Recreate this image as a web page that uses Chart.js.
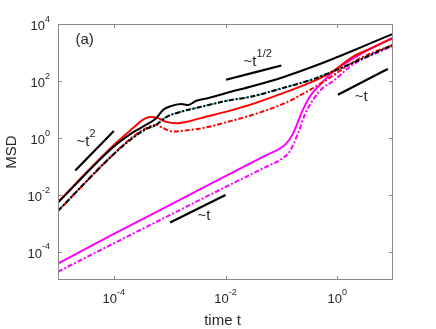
<!DOCTYPE html>
<html>
<head>
<meta charset="utf-8">
<script src="https://cdn.jsdelivr.net/npm/chart.js@4/dist/chart.umd.min.js"></script>
<style>
  html, body { margin: 0; padding: 0; background: #fff; }
  canvas { display: block; }
</style>
</head>
<body>
<canvas id="msd" width="436" height="329"></canvas>
<script>
// series (time t, MSD)
const tBlack = [1e-5, 1e-4, 2.2e-4, 3.8e-4, 5.75e-4, 7.6e-4, 1e-3, 1.62e-3, 2.14e-3, 3.0e-3, 4.6e-3, 1e-2, 3.1e-2, 0.107, 0.372, 0.83, 1.9, 4.4, 10];
const msdBlack = [5.25e-3, 0.49, 1.55, 2.88, 4.9, 9.55, 12.6, 15.5, 14.1, 20, 24, 37, 66, 135, 320, 590, 1150, 2300, 4470];

const tRed = [1e-5, 1e-4, 2.2e-4, 3.3e-4, 4.4e-4, 6.2e-4, 8.7e-4, 1.32e-3, 2e-3, 4.6e-3, 1e-2, 3.1e-2, 0.107, 0.372, 0.83, 1.9, 4.4, 10];
const msdRed = [5.6e-3, 0.56, 2.19, 4.27, 5.37, 4.9, 3.63, 3.24, 3.63, 5.62, 8.13, 15.5, 37.2, 95.5, 214, 700, 1500, 3200];

const tDash = [1e-5, 1e-4, 2.2e-4, 3.8e-4, 5.75e-4, 8.7e-4, 1.5e-3, 3.5e-3, 1e-2, 3.1e-2, 0.107, 0.372, 0.83, 1.9, 4.4, 10];
const msdDash = [2.69e-3, 0.27, 1.0, 2.04, 2.88, 5.37, 7.94, 12.0, 19.5, 28.8, 56.2, 115, 214, 430, 900, 1850];

const tRedDash = [1e-5, 1e-4, 2.2e-4, 3.8e-4, 5.75e-4, 7.6e-4, 1.15e-3, 2e-3, 4.6e-3, 1e-2, 3.1e-2, 0.107, 0.372, 0.83, 1.9, 4.4, 10];
const msdRedDash = [2.69e-3, 0.27, 1.1, 2.19, 2.88, 2.19, 1.66, 1.82, 2.34, 3.47, 6.46, 15.5, 56.2, 151, 450, 1000, 1780];

const tMag = [1e-5, 1e-4, 1e-3, 1e-2, 0.054, 0.107, 0.141, 0.174, 0.229, 0.324, 0.49, 0.83, 1.9, 4.4, 10];
const msdMag = [3.8e-5, 4.2e-4, 4.3e-3, 0.045, 0.245, 0.49, 0.89, 1.9, 7.4, 28.2, 72.4, 200, 600, 1500, 3300];

const tMagDash = [1e-5, 1e-4, 1e-3, 1e-2, 0.054, 0.1, 0.141, 0.2, 0.263, 0.372, 0.55, 0.83, 1.9, 4.4, 10];
const msdMagDash = [1.95e-5, 1.95e-4, 1.9e-3, 0.0186, 0.096, 0.178, 0.331, 1.48, 6.46, 21.9, 56.2, 95.5, 372, 850, 1700];

// guide segments for scaling laws
const tGuideT2 = [2.04e-5, 1e-4];
const msdGuideT2 = [0.071, 1.74];
const tGuideHalf = [1.02e-2, 0.1];
const msdGuideHalf = [110, 347];
const tGuideLow = [1.02e-3, 1e-2];
const msdGuideLow = [1.05e-3, 9.8e-3];
const tGuideRight = [1.03, 8.1];
const msdGuideRight = [32.4, 263];

// tick positions and exponents
const xTicks = [1e-4, 1e-2, 1];
const xTickExp = ['-4', '-2', '0'];
const yTicks = [1e-4, 1e-2, 1, 1e2, 1e4];
const yTickExp = ['-4', '-2', '0', '2', '4'];

// text labels in data coordinates
const notes = [
  {base: '(a)', sup: '', t: 2.06e-5, m: 2020},
  {base: '~t', sup: '2', t: 2.14e-5, m: 0.52},
  {base: '~t', sup: '1/2', t: 0.0211, m: 327},
  {base: '~t', sup: '', t: 3.16e-3, m: 1.29e-3},
  {base: '~t', sup: '', t: 2.06, m: 20}
];

const FONT = "'Liberation Sans', Arial, Helvetica, sans-serif";
const TEXT = '#262626';
const FRAME = '#8a8a8a';

function pts(ts, ms) {
  return ts.map((t, i) => ({x: t, y: ms[i]}));
}

function line(label, ts, ms, color, width, dash, order, dashOffset) {
  return {
    label: label,
    data: pts(ts, ms),
    borderColor: color,
    borderWidth: width,
    borderDash: dash,
    borderDashOffset: dashOffset || 0,
    pointRadius: 0,
    fill: false,
    cubicInterpolationMode: 'monotone',
    order: order
  };
}

function drawPow(ctx, base, sup, x, y, size, align) {
  const supSize = Math.round(size * 0.72);
  ctx.font = size + 'px ' + FONT;
  const wb = ctx.measureText(base).width;
  ctx.font = supSize + 'px ' + FONT;
  const ws = sup ? ctx.measureText(sup).width : 0;
  let x0 = x;
  if (align === 'center') x0 = x - (wb + ws) / 2;
  if (align === 'right') x0 = x - (wb + ws);
  ctx.textAlign = 'left';
  ctx.textBaseline = 'alphabetic';
  ctx.font = size + 'px ' + FONT;
  ctx.fillText(base, x0, y);
  if (sup) {
    ctx.font = supSize + 'px ' + FONT;
    ctx.fillText(sup, x0 + wb, y - size * 0.62);
  }
}

const axesPlugin = {
  id: 'matlabAxes',
  afterDraw(chart) {
    const {ctx, chartArea: a, scales: {x, y}} = chart;
    ctx.save();
    ctx.strokeStyle = FRAME;
    ctx.lineWidth = 1;
    ctx.strokeRect(a.left + 0.5, a.top + 0.5, a.right - a.left - 1, a.bottom - a.top - 1);

    ctx.beginPath();
    xTicks.forEach(v => {
      const px = Math.round(x.getPixelForValue(v)) + 0.5;
      ctx.moveTo(px, a.bottom); ctx.lineTo(px, a.bottom - 4);
      ctx.moveTo(px, a.top); ctx.lineTo(px, a.top + 4);
    });
    yTicks.forEach(v => {
      const py = Math.round(y.getPixelForValue(v)) + 0.5;
      ctx.moveTo(a.left, py); ctx.lineTo(a.left + 4, py);
      ctx.moveTo(a.right, py); ctx.lineTo(a.right - 4, py);
    });
    ctx.stroke();

    ctx.fillStyle = TEXT;
    xTicks.forEach((v, i) => {
      drawPow(ctx, '10', xTickExp[i], x.getPixelForValue(v), a.bottom + 23, 13, 'center');
    });
    yTicks.forEach((v, i) => {
      drawPow(ctx, '10', yTickExp[i], a.left - 8, y.getPixelForValue(v) + 6, 13, 'right');
    });

    ctx.font = '15px ' + FONT;
    ctx.textAlign = 'center';
    ctx.textBaseline = 'alphabetic';
    ctx.fillText('time t', (a.left + a.right) / 2 - 3, a.bottom + 45);
    ctx.save();
    ctx.translate(16, (a.top + a.bottom) / 2);
    ctx.rotate(-Math.PI / 2);
    ctx.fillText('MSD', 0, 0);
    ctx.restore();

    notes.forEach(n => {
      drawPow(ctx, n.base, n.sup, x.getPixelForValue(n.t), y.getPixelForValue(n.m), 15, 'left');
    });
    ctx.restore();
  }
};

new Chart(document.getElementById('msd'), {
  type: 'line',
  data: {
    datasets: [
      line('t^2', tGuideT2, msdGuideT2, '#000', 2.2, [], 0),
      line('t^1/2', tGuideHalf, msdGuideHalf, '#000', 2.2, [], 0),
      line('t low', tGuideLow, msdGuideLow, '#000', 2.2, [], 0),
      line('t right', tGuideRight, msdGuideRight, '#000', 2.2, [], 0),
      line('black solid', tBlack, msdBlack, '#000', 2, [], 1),
      line('black dash-dot', tDash, msdDash, '#000', 2, [5, 2, 2, 2], 2),
      line('red solid', tRed, msdRed, '#ff0000', 2, [], 3),
      line('red dash-dot', tRedDash, msdRedDash, '#ff0000', 2, [5, 2, 2, 2], 4, 3),
      line('teal dotted', tDash, msdDash, '#1a9a9a', 2, [1.5, 1.5], 5),
      line('magenta solid', tMag, msdMag, '#ff00ff', 2, [], 6),
      line('magenta dash-dot', tMagDash, msdMagDash, '#ff00ff', 2, [5, 2, 2, 2], 7)
    ]
  },
  options: {
    responsive: false,
    animation: false,
    devicePixelRatio: 1,
    layout: {padding: {left: 58, right: 43, top: 24, bottom: 49}},
    plugins: {legend: {display: false}, tooltip: {enabled: false}},
    scales: {
      x: {type: 'logarithmic', min: 1e-5, max: 10, display: false},
      y: {type: 'logarithmic', min: 1e-5, max: 1e4, display: false}
    }
  },
  plugins: [axesPlugin]
});
</script>
</body>
</html>
